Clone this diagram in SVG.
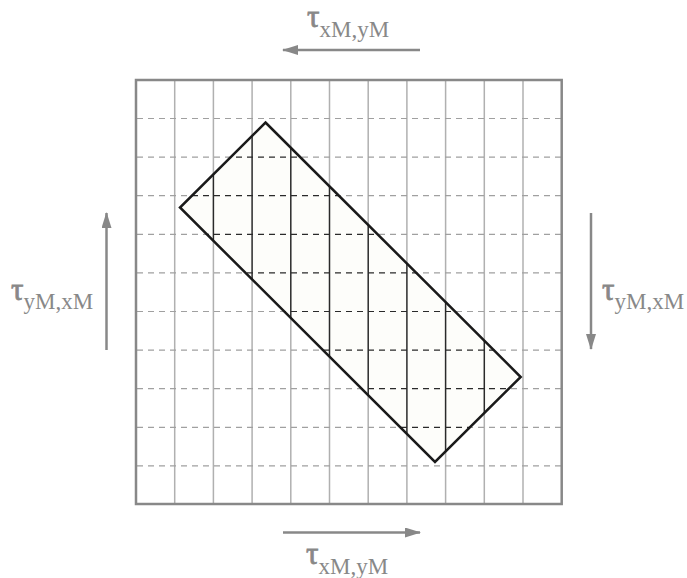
<svg xmlns="http://www.w3.org/2000/svg" width="687" height="578" viewBox="0 0 687 578">
<defs>
<style>
.vg{stroke:#b0b0b0;stroke-width:1.5;fill:none}
.hg{stroke:#a0a0a0;stroke-width:1.2;stroke-dasharray:6 5;fill:none}
.vd{stroke:#2a2a2a;stroke-width:1.5;fill:none}
.hd{stroke:#2a2a2a;stroke-width:1.2;stroke-dasharray:6 5;fill:none}
.arr{stroke:#888;stroke-width:2.5;fill:none}
.lbl{font-family:"Liberation Serif","Times New Roman",serif;fill:#888}
.tau{font-size:31px;stroke:#888;stroke-width:0.8}
.sub{font-size:23px}
</style>
<marker id="ah" viewBox="0 0 16 10" refX="15" refY="5" markerWidth="16" markerHeight="10" markerUnits="userSpaceOnUse" orient="auto">
<path d="M0,0 L16,5 L0,10 Z" fill="#888"/>
</marker>
<clipPath id="rc"><polygon points="265.5,122.5 520.7,377 435,462 180,207.5"/></clipPath>
<g id="gridV">
<line x1="174.7" y1="80" x2="174.7" y2="504"/>
<line x1="213.4" y1="80" x2="213.4" y2="504"/>
<line x1="252.1" y1="80" x2="252.1" y2="504"/>
<line x1="290.8" y1="80" x2="290.8" y2="504"/>
<line x1="329.5" y1="80" x2="329.5" y2="504"/>
<line x1="368.2" y1="80" x2="368.2" y2="504"/>
<line x1="406.9" y1="80" x2="406.9" y2="504"/>
<line x1="445.6" y1="80" x2="445.6" y2="504"/>
<line x1="484.3" y1="80" x2="484.3" y2="504"/>
<line x1="523" y1="80" x2="523" y2="504"/>
</g>
<g id="gridH">
<line x1="137" y1="118.5" x2="561" y2="118.5"/>
<line x1="137" y1="157.1" x2="561" y2="157.1"/>
<line x1="137" y1="195.7" x2="561" y2="195.7"/>
<line x1="137" y1="234.3" x2="561" y2="234.3"/>
<line x1="137" y1="272.9" x2="561" y2="272.9"/>
<line x1="137" y1="311.5" x2="561" y2="311.5"/>
<line x1="137" y1="350.1" x2="561" y2="350.1"/>
<line x1="137" y1="388.7" x2="561" y2="388.7"/>
<line x1="137" y1="427.3" x2="561" y2="427.3"/>
<line x1="137" y1="465.9" x2="561" y2="465.9"/>
</g>
</defs>
<rect width="687" height="578" fill="#fff"/>
<g id="grid">
<use href="#gridV" class="vg"/>
<use href="#gridH" class="hg"/>
<rect x="136" y="80" width="425.7" height="424" fill="none" stroke="#888" stroke-width="2.5"/>
</g>
<g id="rotated-rect">
<polygon points="265.5,122.5 520.7,377 435,462 180,207.5" fill="#fdfdfa"/>
<g clip-path="url(#rc)">
<use href="#gridV" class="vd"/>
<use href="#gridH" class="hd"/>
</g>
<polygon points="265.5,122.5 520.7,377 435,462 180,207.5" fill="none" stroke="#1a1a1a" stroke-width="2.5" stroke-linejoin="miter"/>
</g>
<g id="connectors">
<line class="arr" x1="420" y1="50" x2="283" y2="50" marker-end="url(#ah)"/>
<line class="arr" x1="283" y1="532.5" x2="420" y2="532.5" marker-end="url(#ah)"/>
<line class="arr" x1="106.5" y1="350" x2="106.5" y2="213" marker-end="url(#ah)"/>
<line class="arr" x1="591" y1="213" x2="591" y2="349" marker-end="url(#ah)"/>
</g>
<g id="label-top">
<text class="lbl" x="307" y="27"><tspan class="tau">τ</tspan><tspan class="sub" dy="9.5">xM,yM</tspan></text>
</g>
<g id="label-bottom">
<text class="lbl" x="306" y="564"><tspan class="tau">τ</tspan><tspan class="sub" dy="9.5">xM,yM</tspan></text>
</g>
<g id="label-left">
<text class="lbl" x="11" y="300"><tspan class="tau">τ</tspan><tspan class="sub" dy="9">yM,xM</tspan></text>
</g>
<g id="label-right">
<text class="lbl" x="602" y="300"><tspan class="tau">τ</tspan><tspan class="sub" dy="9">yM,xM</tspan></text>
</g>
</svg>
